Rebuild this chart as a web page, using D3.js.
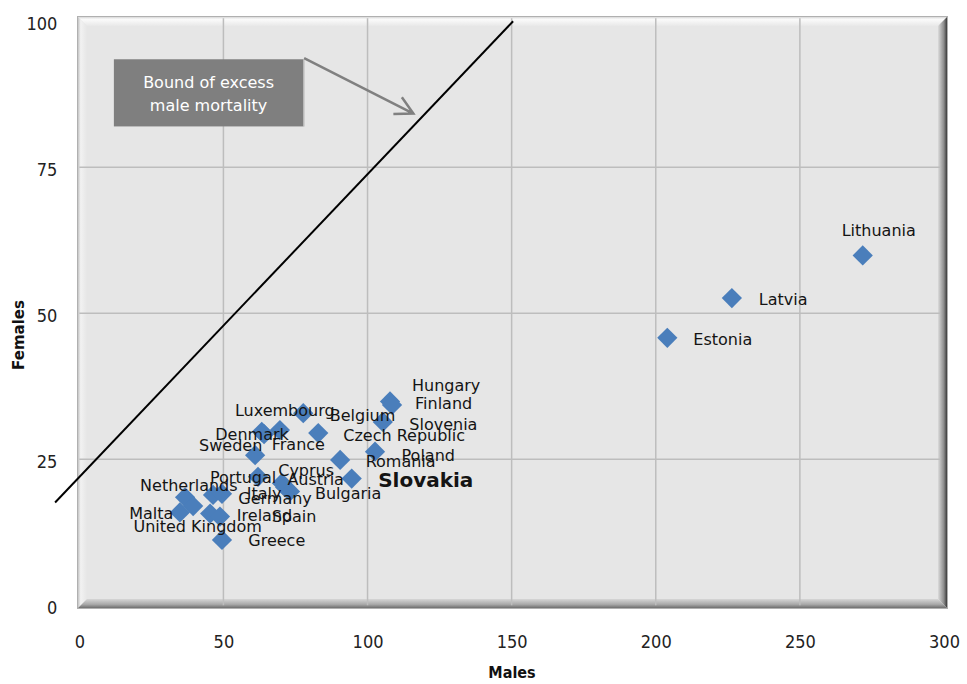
<!DOCTYPE html>
<html>
<head>
<meta charset="utf-8">
<script src="https://cdn.jsdelivr.net/npm/d3@7/dist/d3.min.js"></script>
<style>
  html, body { margin: 0; padding: 0; background: #ffffff; }
  svg { display: block; }
</style>
</head>
<body>
<div id="chart"></div>
<script>
// ---- Data ----
const countries = ["Lithuania","Latvia","Estonia","Hungary","Finland","Slovenia","Belgium",
  "Czech Republic","Poland","Romania","Slovakia","Luxembourg","Denmark","France","Sweden",
  "Portugal","Cyprus","Austria","Bulgaria","Netherlands","United Kingdom","Malta","Italy",
  "Germany","Ireland","Spain","Greece"];
const males   = [271.8,226.4,204.0,107.8,108.5,105.3,77.7,82.9,102.6,90.5,94.5,69.6,63.3,64.1,61.0,
  62.0,70.3,71.4,73.1,36.7,39.5,34.9,46.4,49.5,45.4,48.8,49.5];
const females = [59.9,52.6,45.8,34.9,34.3,31.4,32.9,29.5,26.3,24.9,21.7,30.0,29.7,29.3,25.7,
  22.0,20.9,20.2,19.5,18.5,17.0,15.9,18.9,19.1,15.7,15.2,11.2];
const highlighted = ["Slovakia"];
const xTicks = [0,50,100,150,200,250,300];
const yTicks = [0,25,50,75,100];
const xLabel = "Males";
const yLabel = "Females";
const boundLine = [{m:-8.4, f:17.6},{m:150.5, f:100}];
const calloutText = ["Bound of excess","male mortality"];

// label placement offsets (px) relative to the marker, layout only
const labelOffset = {
  "Lithuania":[-21,-25],"Latvia":[27,1.5],"Estonia":[26,1.5],"Hungary":[22,-16],"Finland":[23,-1],
  "Slovenia":[26.5,2.3],"Belgium":[26.5,2.4],"Czech Republic":[25,2.4],"Poland":[26.5,3.3],
  "Romania":[25.5,1.7],"Slovakia":[26.5,1],"Luxembourg":[-45,-19.3],"Denmark":[-46.5,2.3],
  "France":[7.7,10],"Sweden":[-56,-10],"Portugal":[-48,0.3],"Cyprus":[-3.7,-13],"Austria":[2.3,-8],
  "Bulgaria":[25,2.3],"Netherlands":[-45,-12],"United Kingdom":[-59.7,20.7],"Malta":[-50.7,0.7],
  "Italy":[33.7,-1],"Germany":[16.3,4.3],"Ireland":[26.7,1.7],"Spain":[51.7,0.3],"Greece":[26.3,0.7]
};

const data = countries.map((c,i)=>({name:c, m:males[i], f:females[i]}));

// ---- Layout ----
const W = 967, H = 684;
const frame = {x0:78, y0:17, x1:947, y1:608, b:9};
const x = d3.scaleLinear().domain([0,300]).range([79.3, 944]);
const y = d3.scaleLinear().domain([0,100]).range([605.3, 21.3]);

const svg = d3.select("#chart").append("svg").attr("width",W).attr("height",H);
const defs = svg.append("defs");

function grad(id, x1,y1,x2,y2, stops){
  const g = defs.append("linearGradient").attr("id",id)
    .attr("x1",x1).attr("y1",y1).attr("x2",x2).attr("y2",y2);
  stops.forEach(s=>g.append("stop").attr("offset",s[0]).attr("stop-color",s[1]));
}
grad("gTop","0","0","0","1",[[0,"#d8d8d8"],[0.25,"#fbfbfb"],[1,"#e8e8e8"]]);
grad("gLeft","0","0","1","0",[[0,"#c4c4c4"],[0.3,"#f2f2f2"],[1,"#e6e6e6"]]);
grad("gRight","1","0","0","0",[[0,"#3a3a3a"],[0.35,"#8c8c8c"],[1,"#dcdcdc"]]);
grad("gBottom","0","1","0","0",[[0,"#6e6e6e"],[0.4,"#a8a8a8"],[1,"#d6d6d6"]]);

// Plot frame with bevel
const F = frame, b = F.b;
svg.append("rect").attr("x",F.x0).attr("y",F.y0).attr("width",F.x1-F.x0).attr("height",F.y1-F.y0)
  .attr("fill","#e6e6e6");
const poly = (pts, fill) => svg.append("polygon").attr("points", pts.map(p=>p.join(",")).join(" ")).attr("fill",fill);
poly([[F.x0,F.y0],[F.x1,F.y0],[F.x1-b,F.y0+b],[F.x0+b,F.y0+b]], "url(#gTop)");
poly([[F.x0,F.y0],[F.x0+b,F.y0+b],[F.x0+b,F.y1-b],[F.x0,F.y1]], "url(#gLeft)");
poly([[F.x1,F.y0],[F.x1,F.y1],[F.x1-b,F.y1-b],[F.x1-b,F.y0+b]], "url(#gRight)");
poly([[F.x0,F.y1],[F.x1,F.y1],[F.x1-b,F.y1-b],[F.x0+b,F.y1-b]], "url(#gBottom)");
svg.append("rect").attr("x",F.x0-0.5).attr("y",F.y0-0.5).attr("width",F.x1-F.x0+1).attr("height",F.y1-F.y0+1)
  .attr("fill","none").attr("stroke","#b0b0b0").attr("stroke-width",1);

// Gridlines
svg.append("g").selectAll("line").data(xTicks.filter(t=>t>0 && t<300)).join("line")
  .attr("x1",d=>x(d)).attr("x2",d=>x(d)).attr("y1",y(100)-3).attr("y2",y(0))
  .attr("stroke","#bdbdbd").attr("stroke-width",1.5);
svg.append("g").selectAll("line").data(yTicks.filter(t=>t>0 && t<100)).join("line")
  .attr("x1",x(0)).attr("x2",x(300)-4).attr("y1",d=>y(d)).attr("y2",d=>y(d))
  .attr("stroke","#bdbdbd").attr("stroke-width",1.5);

// Axes (labels only)
const tickFont = "'DejaVu Sans Condensed','DejaVu Sans',sans-serif";
const gx = svg.append("g").attr("transform",`translate(0,${y(0)})`)
  .call(d3.axisBottom(x).tickValues(xTicks).tickSize(0).tickPadding(30).tickFormat(d3.format("d")));
const gy = svg.append("g").attr("transform",`translate(${x(0)},0)`)
  .call(d3.axisLeft(y).tickValues(yTicks).tickSize(0).tickPadding(22).tickFormat(d3.format("d")));
[gx,gy].forEach(g=>{
  g.select(".domain").remove();
  g.selectAll("text").attr("font-family",tickFont).attr("font-size",18).attr("fill","#222");
});
gy.selectAll("text").attr("dy","0.45em");

svg.append("text").attr("x",512).attr("y",672).attr("text-anchor","middle").attr("dominant-baseline","central")
  .attr("font-family",tickFont).attr("font-weight","bold").attr("font-size",16).attr("fill","#111").text(xLabel);
svg.append("text").attr("transform","translate(18.5,335) rotate(-90)").attr("text-anchor","middle")
  .attr("dominant-baseline","central")
  .attr("font-family","'DejaVu Sans',sans-serif").attr("font-weight","bold").attr("font-size",15).attr("fill","#111").text(yLabel);

// Bound of excess male mortality line
svg.append("path").datum(boundLine)
  .attr("d", d3.line().x(d=>x(d.m)).y(d=>y(d.f)))
  .attr("stroke","#000").attr("stroke-width",2).attr("fill","none");

// Callout box + arrow (annotation placed in data coordinates)
const box = {m0:12.0, m1:77.7, f0:93.5, f1:82.0};
svg.append("rect").attr("x",x(box.m0)).attr("y",y(box.f0))
  .attr("width",x(box.m1)-x(box.m0)).attr("height",y(box.f1)-y(box.f0))
  .attr("fill","#7f7f7f");
svg.append("line").attr("x1",x(box.m1)+0.5).attr("x2",x(box.m1)+0.5).attr("y1",y(box.f0)).attr("y2",y(box.f1))
  .attr("stroke","#b8b8b8").attr("stroke-width",1.5);
const boxCx = (x(box.m0)+x(box.m1))/2;
svg.append("g").selectAll("text").data(calloutText).join("text")
  .attr("x",boxCx).attr("y",(d,i)=>y(box.f0)+23.7+i*22.3)
  .attr("text-anchor","middle").attr("dominant-baseline","central")
  .attr("font-family","'DejaVu Sans',sans-serif").attr("font-size",16).attr("fill","#ffffff").text(d=>d);

const arrowFrom = [x(78.0), y(93.7)], arrowTo = [x(115.9), y(84.2)];
const ang = Math.atan2(arrowTo[1]-arrowFrom[1], arrowTo[0]-arrowFrom[0]);
const hl = 20, spread = 28*Math.PI/180;
const b1 = [arrowTo[0]-hl*Math.cos(ang-spread), arrowTo[1]-hl*Math.sin(ang-spread)];
const b2 = [arrowTo[0]-hl*Math.cos(ang+spread), arrowTo[1]-hl*Math.sin(ang+spread)];
svg.append("path")
  .attr("d",`M${arrowFrom}L${arrowTo}M${b1}L${arrowTo}L${b2}`)
  .attr("stroke","#808080").attr("stroke-width",2.5).attr("fill","none")
  .attr("stroke-linejoin","miter").attr("stroke-linecap","butt");

// Markers (diamonds)
svg.append("g").selectAll("path").data(data).join("path")
  .attr("d", d3.symbol().type(d3.symbolSquare).size(205))
  .attr("transform", d=>`translate(${x(d.m)},${y(d.f)}) rotate(45)`)
  .attr("fill","#4a7ebb");

// Data labels
svg.append("g").selectAll("text").data(data).join("text")
  .attr("x", d=>x(d.m)+labelOffset[d.name][0])
  .attr("y", d=>y(d.f)+labelOffset[d.name][1])
  .attr("dominant-baseline","central")
  .attr("font-family","'DejaVu Sans',sans-serif")
  .attr("font-size", d=>highlighted.includes(d.name)?20:16)
  .attr("font-weight", d=>highlighted.includes(d.name)?"bold":"normal")
  .attr("fill","#141414")
  .text(d=>d.name);
</script>
</body>
</html>
